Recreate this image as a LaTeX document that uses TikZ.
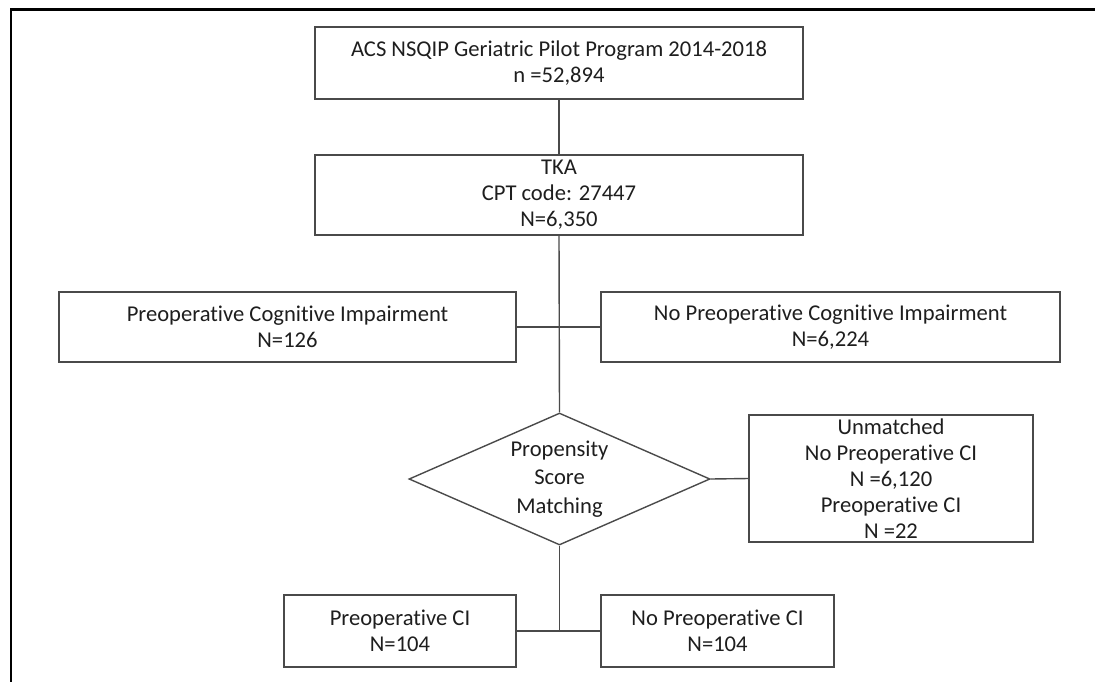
\documentclass[tikz,border=0pt]{standalone}
\usepackage{fontspec}
\setmainfont{Carlito}[Ligatures=NoCommon]
\usetikzlibrary{shapes.geometric}
\definecolor{edge}{HTML}{4A4A4A}
\definecolor{ink}{HTML}{1E1E1E}
\tikzset{
  box/.style={draw=edge, line width=1.4pt, rectangle, inner sep=0pt, align=center,
    text=ink, font=\fontsize{22.6}{26}\selectfont},
  decision/.style={draw=edge, line width=1.4pt, diamond, shape aspect=2.28, inner sep=0pt,
    align=center, text=ink, font=\fontsize{22.6}{28.5}\selectfont},
  link/.style={draw=edge, line width=1.4pt},
  frame/.style={draw=black, line width=2.6pt}
}
\begin{document}
\begin{tikzpicture}[x=1pt,y=-1pt]
\useasboundingbox (0,0) rectangle (1095,681);
% border lines
\draw[frame] (11,682) -- (11,9.5) -- (1095,9.5);

% flow boxes
\node[box, minimum width=488pt, minimum height=72pt] (acs) at (559,63)
  {ACS NSQIP Geriatric Pilot Program 2014-2018\\n =52,894};
\node[box, minimum width=488pt, minimum height=80pt] (tka) at (559,195)
  {TKA\\CPT code: 27447\\N=6,350};
\node[box, minimum width=457pt, minimum height=70pt] (pci) at (287.5,327)
  {Preoperative Cognitive Impairment\\N=126};
\node[box, minimum width=459pt, minimum height=70pt] (npci) at (830.5,327)
  {No Preoperative Cognitive Impairment\\N=6,224};
\node[decision, minimum width=301pt, minimum height=132pt] (psm) at (559.5,479)
  {Propensity\\Score\\Matching};
\node[box, minimum width=284pt, minimum height=127pt] (unm) at (891,478.5)
  {Unmatched\\No Preoperative CI\\N =6,120\\Preoperative CI\\N =22};
\node[box, minimum width=232pt, minimum height=72pt] (bl) at (400,631)
  {Preoperative CI\\N=104};
\node[box, minimum width=233pt, minimum height=72pt] (br) at (717.5,631)
  {No Preoperative CI\\N=104};

% connectors
\coordinate (join) at (psm.south |- bl.east);
\draw[link] (acs.south) -- (tka.north);
\draw[link] (tka.south) -- (psm.north);
\draw[link] (pci.east) -- (npci.west);
\draw[link] (psm.east) -- (unm.west);
\draw[link] (psm.south) -- (join);
\draw[link] (bl.east) -- (br.west);
\end{tikzpicture}
\end{document}
